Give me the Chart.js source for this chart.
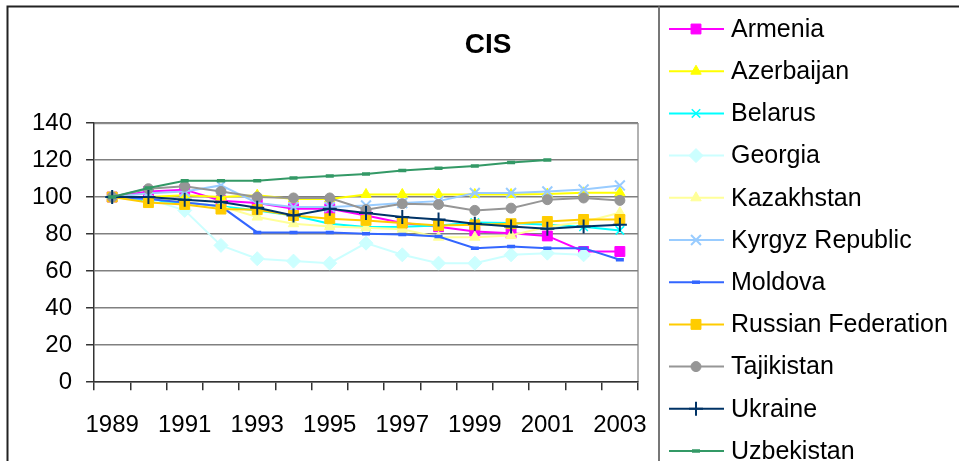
<!DOCTYPE html>
<html>
<head>
<meta charset="utf-8">
<script src="https://cdn.jsdelivr.net/npm/chart.js@4.4.1/dist/chart.umd.min.js"></script>
<style>
  body { margin: 0; background: #fff; }
  #wrap { width: 959px; height: 461px; position: relative; }
</style>
</head>
<body>
<div id="wrap"><canvas id="grafico" width="959" height="461"></canvas></div>
<script>
const anos = ["1989", "1990", "1991", "1992", "1993", "1994", "1995", "1996", "1997", "1998", "1999", "2000", "2001", "2002", "2003"];

const armenia     = [100, 103, 104, 98, 96.8, 93.7, 93.7, 90, 86, 84, 81.4, 80.5, 79, 70.6, 70.6];
const azerbaijan  = [100, 100, 101, 100, 101, 99, 99, 101.4, 101.4, 101.4, 101.4, 101.4, 101.6, 102.3, 102.3];
const belarus     = [100, 98, 97, 95, 92.8, 90, 85.6, 83.8, 84, 84.7, 86.2, 86, 85, 84, 82];
const georgia     = [100, 99, 92.8, 73.9, 66.7, 65.4, 64.3, 75.1, 68.8, 64.3, 64.3, 68.8, 69.7, 68.8, null];
const kazakhstan  = [100, 100, 97, 95, 89.2, 85.6, 84.1, 83.4, 82.6, 78.3, 78.3, 79.2, 84, 86.5, 91.5];
const kyrgyz      = [100, 102, 103, 106.3, 96.8, 94.6, 94.6, 95.5, 96.8, 97.8, 102.2, 102.2, 103, 104.1, 106.3];
const moldova     = [100, 99, 97, 95, 80.9, 80.9, 80.9, 80.2, 79.8, 78.7, 72.4, 73.3, 72.4, 72.4, 66.1];
const russia      = [100, 97, 96, 93.5, 93.2, 90, 88.3, 87.4, 86, 84.7, 85, 85.6, 86.8, 87.9, 87.9];
const tajikistan  = [100, 104.5, 105.8, 103, 100, 99.5, 99.5, 93.2, 96.4, 96, 92.8, 94, 98.6, 99.5, 98.2];
const ukraine     = [100, 100, 98.6, 97.3, 94.2, 90, 93.7, 91.4, 89.2, 87.9, 85.6, 84.1, 82.9, 84.1, 85];
const uzbekistan  = [100, 104.9, 108.8, 108.8, 108.8, 110.3, 111.4, 112.4, 114.4, 115.5, 116.8, 118.7, 120, null, null];

const fonte = "'Liberation Sans', Arial, sans-serif";

function serie(label, data, cor, estilo, raio, fill, bw) {
  return {
    label: label,
    data: data,
    borderColor: cor,
    backgroundColor: fill || cor,
    pointStyle: estilo,
    pointRadius: raio,
    pointHoverRadius: raio,
    pointBorderColor: cor,
    pointBackgroundColor: fill || cor,
    pointBorderWidth: bw || 1,
    borderWidth: 2,
    tension: 0,
    spanGaps: false
  };
}

const series = [
  serie("Armenia", armenia, "#ff00ff", "rect", 7),
  serie("Azerbaijan", azerbaijan, "#ffff00", "triangle", 6),
  serie("Belarus", belarus, "#00ffff", "crossRot", 6, null, 1.5),
  serie("Georgia", georgia, "#ccffff", "rectRot", 7),
  serie("Kazakhstan", kazakhstan, "#ffff99", "triangle", 6),
  serie("Kyrgyz Republic", kyrgyz, "#99ccff", "crossRot", 7, null, 2),
  serie("Moldova", moldova, "#3366ff", "line", 4, null, 3.5),
  serie("Russian Federation", russia, "#ffcc00", "rect", 7),
  serie("Tajikistan", tajikistan, "#969696", "circle", 5),
  serie("Ukraine", ukraine, "#003366", "cross", 7, null, 2),
  serie("Uzbekistan", uzbekistan, "#339966", "line", 4, null, 3.5)
];
// later series drawn on top, as in the original
series.forEach((s, i) => { s.order = series.length - i; });

const moldura = {
  id: "moldura",
  beforeDraw(chart) {
    const ctx = chart.ctx;
    const a = chart.chartArea;
    ctx.save();
    ctx.fillStyle = "#fff";
    ctx.fillRect(0, 0, chart.width, chart.height);
    // plot area border (right / top)
    ctx.strokeStyle = "#999";
    ctx.lineWidth = 1.5;
    ctx.beginPath();
    ctx.moveTo(a.left, a.top + 0.5);
    ctx.lineTo(a.right, a.top + 0.5);
    ctx.moveTo(a.right, a.top);
    ctx.lineTo(a.right, a.bottom);
    ctx.stroke();
    ctx.restore();
  },
  afterDraw(chart) {
    const ctx = chart.ctx;
    ctx.save();
    // outer frame
    ctx.strokeStyle = "#222";
    ctx.lineWidth = 2;
    ctx.beginPath();
    ctx.moveTo(7.5, chart.height);
    ctx.lineTo(7.5, 6.5);
    ctx.lineTo(chart.width, 6.5);
    ctx.stroke();
    ctx.strokeStyle = "#777";
    ctx.beginPath();
    ctx.moveTo(659, 6.5);
    ctx.lineTo(659, chart.height);
    ctx.stroke();

    // title
    ctx.fillStyle = "#000";
    ctx.font = "bold 28px " + fonte;
    ctx.textAlign = "center";
    ctx.textBaseline = "middle";
    ctx.fillText("CIS", 488, 45);

    // legend
    ctx.font = "25px " + fonte;
    ctx.textAlign = "left";
    chart.data.datasets.forEach((ds, i) => {
      const y = 29 + i * 42.2;
      ctx.strokeStyle = ds.borderColor;
      ctx.lineWidth = 2;
      ctx.beginPath();
      ctx.moveTo(669, y);
      ctx.lineTo(724, y);
      ctx.stroke();
      ctx.fillStyle = ds.pointBackgroundColor;
      ctx.strokeStyle = ds.pointBorderColor;
      ctx.lineWidth = ds.pointBorderWidth;
      Chart.helpers.drawPoint(ctx, { pointStyle: ds.pointStyle, radius: ds.pointRadius, borderWidth: ds.pointBorderWidth }, 696, y);
      ctx.fillStyle = "#000";
      ctx.fillText(ds.label, 731, y + 1);
    });
    ctx.restore();
  }
};

const ctx = document.getElementById("grafico").getContext("2d");
const grafico = new Chart(ctx, {
  type: "line",
  data: { labels: anos, datasets: series },
  options: {
    responsive: false,
    animation: false,
    events: [],
    layout: { padding: { left: 18, right: 321, top: 123, bottom: 0 } },
    plugins: { legend: { display: false }, title: { display: false }, tooltip: { enabled: false } },
    scales: {
      x: {
        offset: true,
        grid: { display: true, offset: true, drawOnChartArea: false, drawTicks: true, tickLength: 8, color: "#333", lineWidth: 1.5 },
        border: { color: "#333", width: 1.5 },
        ticks: {
          autoSkip: false,
          maxRotation: 0,
          padding: 21,
          color: "#000",
          font: { family: fonte, size: 24 },
          callback: function (v, i) { return i % 2 === 0 ? this.getLabelForValue(v) : ""; }
        }
      },
      y: {
        min: 0,
        max: 140,
        ticks: { stepSize: 20, padding: 14, color: "#000", font: { family: fonte, size: 24 } },
        grid: { color: "#808080", lineWidth: 1.5, tickLength: 8, tickColor: "#333" },
        border: { color: "#333", width: 1.5 }
      }
    }
  },
  plugins: [moldura]
});
</script>
</body>
</html>
